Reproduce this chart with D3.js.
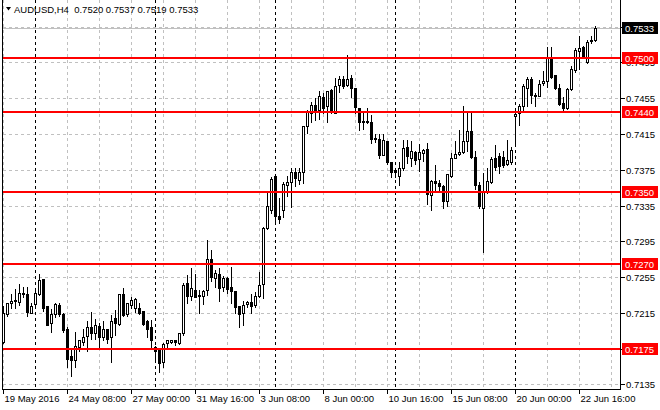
<!DOCTYPE html>
<html><head><meta charset="utf-8">
<script src="https://cdn.jsdelivr.net/npm/d3@7"></script>
<style>html,body{margin:0;padding:0;background:#fff;}svg{display:block;}</style>
</head><body>
<svg id="c" width="660" height="410"></svg>
<script>
// ---- data ----
const symbol = "AUDUSD,H4";
const startTime = "2016-05-19T16:00:00";   // first H4 bar
const opens = [0.7182,0.7214,0.7226,0.7228,0.7227,0.7236,0.7236,0.7215,0.7225,0.7236,
0.7253,0.7223,0.7204,0.7214,0.7224,0.7214,0.7197,0.7167,0.7162,0.7177,
0.7183,0.7189,0.7199,0.7192,0.7200,0.7188,0.7197,0.7188,0.7209,0.7203,
0.7236,0.7214,0.7224,0.7220,0.7221,0.7217,0.7206,0.7199,0.7177,0.7173,
0.7160,0.7181,0.7183,0.7185,0.7181,0.7192,0.7248,0.7234,0.7241,0.7234,
0.7234,0.7241,0.7275,0.7254,0.7259,0.7244,0.7254,0.7244,0.7240,0.7223,
0.7215,0.7225,0.7227,0.7224,0.7234,0.7247,0.7310,0.7330,0.7368,0.7323,
0.7330,0.7358,0.7361,0.7372,0.7364,0.7373,0.7424,0.7438,0.7447,0.7442,
0.7456,0.7446,0.7464,0.7439,0.7470,0.7477,0.7470,0.7478,0.7466,0.7444,
0.7430,0.7430,0.7429,0.7411,0.7409,0.7392,0.7407,0.7384,0.7375,0.7368,
0.7377,0.7400,0.7388,0.7395,0.7387,0.7394,0.7398,0.7347,0.7363,0.7360,
0.7357,0.7340,0.7368,0.7388,0.7393,0.7395,0.7407,0.7418,0.7389,0.7358,
0.7332,0.7350,0.7361,0.7388,0.7390,0.7389,0.7381,0.7384,0.7435,0.7438,
0.7446,0.7467,0.7477,0.7459,0.7458,0.7472,0.7474,0.7500,0.7481,0.7467,
0.7450,0.7444,0.7465,0.7487,0.7508,0.7512,0.7496,0.7520,0.7520];
const highs = [0.7224,0.7227,0.7237,0.7243,0.7249,0.7245,0.7245,0.7227,0.7244,0.7260,
0.7253,0.7224,0.7220,0.7227,0.7227,0.7216,0.7200,0.7177,0.7195,0.7186,
0.7198,0.7207,0.7217,0.7209,0.7205,0.7207,0.7198,0.7214,0.7219,0.7237,
0.7244,0.7227,0.7234,0.7233,0.7227,0.7217,0.7208,0.7208,0.7179,0.7175,
0.7183,0.7186,0.7186,0.7186,0.7193,0.7250,0.7258,0.7266,0.7260,0.7242,
0.7242,0.7298,0.7287,0.7264,0.7266,0.7257,0.7256,0.7268,0.7240,0.7224,
0.7230,0.7229,0.7237,0.7239,0.7262,0.7312,0.7350,0.7368,0.7369,0.7345,
0.7363,0.7369,0.7378,0.7378,0.7378,0.7425,0.7443,0.7452,0.7456,0.7464,
0.7462,0.7464,0.7466,0.7479,0.7481,0.7481,0.7504,0.7482,0.7468,0.7445,
0.7441,0.7445,0.7437,0.7416,0.7416,0.7416,0.7408,0.7385,0.7377,0.7385,
0.7410,0.7410,0.7408,0.7397,0.7405,0.7399,0.7406,0.7365,0.7381,0.7365,
0.7359,0.7371,0.7395,0.7408,0.7421,0.7447,0.7440,0.7440,0.7397,0.7363,
0.7373,0.7378,0.7390,0.7404,0.7395,0.7397,0.7410,0.7402,0.7442,0.7450,
0.7472,0.7480,0.7480,0.7462,0.7476,0.7487,0.7513,0.7513,0.7482,0.7472,
0.7457,0.7468,0.7492,0.7512,0.7526,0.7515,0.7521,0.7526,0.7537];
const lows = [0.7181,0.7212,0.7220,0.7220,0.7224,0.7233,0.7211,0.7215,0.7224,0.7235,
0.7217,0.7202,0.7194,0.7210,0.7212,0.7194,0.7155,0.7144,0.7155,0.7172,
0.7179,0.7172,0.7186,0.7186,0.7177,0.7185,0.7181,0.7160,0.7190,0.7202,
0.7212,0.7212,0.7220,0.7216,0.7214,0.7202,0.7188,0.7176,0.7161,0.7149,
0.7155,0.7175,0.7181,0.7179,0.7180,0.7190,0.7226,0.7229,0.7233,0.7215,
0.7225,0.7235,0.7251,0.7244,0.7228,0.7240,0.7237,0.7226,0.7215,0.7199,
0.7202,0.7222,0.7215,0.7222,0.7233,0.7232,0.7309,0.7327,0.7314,0.7315,
0.7322,0.7346,0.7333,0.7357,0.7359,0.7360,0.7416,0.7429,0.7431,0.7432,
0.7438,0.7429,0.7439,0.7438,0.7462,0.7466,0.7469,0.7456,0.7438,0.7419,
0.7421,0.7427,0.7405,0.7406,0.7388,0.7391,0.7381,0.7367,0.7367,0.7358,
0.7375,0.7383,0.7379,0.7381,0.7374,0.7385,0.7337,0.7330,0.7352,0.7352,
0.7332,0.7334,0.7367,0.7388,0.7392,0.7394,0.7396,0.7388,0.7353,0.7332,
0.7283,0.7349,0.7360,0.7375,0.7371,0.7378,0.7380,0.7382,0.7404,0.7425,
0.7440,0.7446,0.7450,0.7446,0.7457,0.7470,0.7468,0.7478,0.7465,0.7447,
0.7442,0.7443,0.7464,0.7484,0.7488,0.7500,0.7494,0.7517,0.7519];
const closes = [0.7215,0.7226,0.7228,0.7229,0.7237,0.7237,0.7216,0.7223,0.7237,0.7252,
0.7221,0.7202,0.7214,0.7225,0.7214,0.7196,0.7163,0.7162,0.7178,0.7185,
0.7188,0.7199,0.7193,0.7201,0.7188,0.7197,0.7186,0.7206,0.7204,0.7236,
0.7213,0.7226,0.7229,0.7231,0.7215,0.7203,0.7197,0.7185,0.7172,0.7159,
0.7180,0.7185,0.7185,0.7182,0.7192,0.7246,0.7234,0.7243,0.7233,0.7235,
0.7240,0.7275,0.7255,0.7260,0.7243,0.7254,0.7242,0.7239,0.7222,0.7214,
0.7224,0.7227,0.7223,0.7234,0.7246,0.7310,0.7334,0.7365,0.7323,0.7320,
0.7359,0.7361,0.7372,0.7366,0.7373,0.7424,0.7440,0.7447,0.7441,0.7457,
0.7444,0.7463,0.7441,0.7469,0.7477,0.7469,0.7477,0.7466,0.7445,0.7429,
0.7428,0.7428,0.7410,0.7409,0.7392,0.7408,0.7384,0.7373,0.7373,0.7377,
0.7399,0.7390,0.7396,0.7386,0.7395,0.7397,0.7348,0.7362,0.7360,0.7357,
0.7340,0.7370,0.7388,0.7393,0.7395,0.7407,0.7418,0.7389,0.7358,0.7334,
0.7350,0.7362,0.7387,0.7378,0.7379,0.7380,0.7386,0.7397,0.7437,0.7446,
0.7469,0.7476,0.7459,0.7457,0.7471,0.7474,0.7500,0.7479,0.7467,0.7449,
0.7444,0.7465,0.7488,0.7509,0.7511,0.7501,0.7518,0.7519,0.7533];
const levels = [0.7500, 0.7440, 0.7350, 0.7270, 0.7175];
const priceTicks = [0.7135,0.7175,0.7215,0.7255,0.7295,0.7335,0.7375,0.7415,0.7455,0.7495,0.7535];
const timeTickLabels = ["19 May 2016","24 May 08:00","27 May 00:00","31 May 16:00","3 Jun 08:00",
                        "8 Jun 00:00","10 Jun 16:00","15 Jun 08:00","20 Jun 00:00","22 Jun 16:00"];

// ---- times of bars (H4, weekdays only) ----
const times = [];
{ let t = new Date(startTime);
  while (times.length < opens.length) {
    const d = t.getDay();
    if (d !== 0 && d !== 6) times.push(new Date(t));
    t = new Date(t.getTime() + 4*3600*1000);
  } }
const bars = opens.map((o,i)=>({i, t: times[i], o, h: highs[i], l: lows[i], c: closes[i]}));

// ---- layout ----
const svg = d3.select("#c");
const FONT = "Liberation Sans, Arial, sans-serif";
const PL = 2.5, PR = 620.5, PB = 389.5, PT = 0;
const x = d3.scaleLinear().domain([0, bars.length-1]).range([3.5, 3.5 + 4*(bars.length-1)]);
const y = d3.scaleLinear().domain([0.7175, 0.7500]).range([348.7, 58]);
const py = v => Math.round(y(v)) + 0.5;

const g = svg.append("g").attr("shape-rendering","crispEdges");

// horizontal grid
g.selectAll(".hg").data(priceTicks).join("line")
  .attr("x1", PL).attr("x2", PR).attr("y1", d=>py(d)).attr("y2", d=>py(d))
  .attr("stroke","#c0c0c0").attr("stroke-dasharray","3,3");
// vertical grid every 8 bars
const vgrid = d3.range(0, 153, 8);
g.selectAll(".vg").data(vgrid).join("line")
  .attr("x1", d=>x(d)).attr("x2", d=>x(d)).attr("y1", PT).attr("y2", PB)
  .attr("stroke","#c0c0c0").attr("stroke-dasharray","3,3");
// weekly separators (Monday 00:00)
const seps = bars.filter(b => b.t.getDay()===1 && b.t.getHours()===0);
g.selectAll(".sep").data(seps).join("line")
  .attr("x1", d=>x(d.i)).attr("x2", d=>x(d.i)).attr("y1", PT).attr("y2", PB)
  .attr("stroke","#000").attr("stroke-dasharray","3,3");

// bid line
const last = bars[bars.length-1];
g.append("line").attr("x1",PL).attr("x2",PR).attr("y1",py(last.c)).attr("y2",py(last.c))
  .attr("stroke","#c0c0c0");

// candles
const cg = g.append("g");
cg.selectAll(".wick").data(bars).join("line")
  .attr("x1", d=>x(d.i)).attr("x2", d=>x(d.i))
  .attr("y1", d=>py(d.h)).attr("y2", d=>py(d.l)).attr("stroke","#000");
cg.selectAll(".body").data(bars).join("rect")
  .attr("x", d=>x(d.i)-1).attr("width", 2)
  .attr("y", d=>py(Math.max(d.o,d.c)))
  .attr("height", d=>Math.max(0, py(Math.min(d.o,d.c)) - py(Math.max(d.o,d.c))))
  .attr("fill", d=> d.c >= d.o ? "#fff" : "#000").attr("stroke","#000");

// level lines
g.selectAll(".lvl").data(levels).join("line")
  .attr("x1", PL).attr("x2", PR).attr("y1", d=>Math.round(y(d))).attr("y2", d=>Math.round(y(d)))
  .attr("stroke","#ff0000").attr("stroke-width",2);

// frame
g.append("line").attr("x1",PL).attr("x2",PL).attr("y1",PT).attr("y2",PB).attr("stroke","#000");
g.append("line").attr("x1",PR).attr("x2",PR).attr("y1",PT).attr("y2",PB).attr("stroke","#000");
g.append("line").attr("x1",PL).attr("x2",PR).attr("y1",PB).attr("y2",PB).attr("stroke","#000");

// right price axis
const ax = svg.append("g");
ax.selectAll(".pt").data(priceTicks.filter(v => y(v) < PB && y(v) > 10)).join("g").each(function(d){
  const s = d3.select(this);
  s.append("line").attr("x1",PR).attr("x2",PR+4).attr("y1",py(d)).attr("y2",py(d))
   .attr("stroke","#000").attr("shape-rendering","crispEdges");
  s.append("text").attr("x",626).attr("y",py(d)+3.5).attr("font-family",FONT).attr("font-size","9.5px")
   .attr("fill","#000").text(d3.format(".4f")(d));
});
function tag(v, bg){
  const yy = Math.round(y(v));
  ax.append("rect").attr("x",622).attr("y",yy-6).attr("width",36).attr("height",12)
    .attr("fill",bg).attr("shape-rendering","crispEdges");
  ax.append("text").attr("x",625).attr("y",yy+3.5).attr("font-family",FONT).attr("font-size","9.5px")
    .attr("fill","#fff").text(d3.format(".4f")(v));
}
levels.forEach(v => tag(v, "#ff0000"));
tag(last.c, "#000");

// time axis
const tt = d3.range(0, bars.length, 16);
ax.selectAll(".tt").data(tt).join("g").each(function(d,k){
  const s = d3.select(this);
  s.append("line").attr("x1",x(d)).attr("x2",x(d)).attr("y1",PB).attr("y2",PB+4)
   .attr("stroke","#000").attr("shape-rendering","crispEdges");
  s.append("text").attr("x",x(d)+1).attr("y",402).attr("font-family",FONT).attr("font-size","9.5px")
   .attr("fill","#000").text(timeTickLabels[k]);
});

// title
svg.append("path").attr("d","M6,7 L11,7 L8.5,10.5 Z").attr("fill","#000");
svg.append("text").attr("x",14).attr("y",13).attr("font-family",FONT).attr("font-size","9.5px")
  .attr("fill","#000").attr("xml:space","preserve")
  .text(symbol + "  " + [last.o,last.h,last.l,last.c].map(d3.format(".4f")).join(" "));
</script>
</body></html>
